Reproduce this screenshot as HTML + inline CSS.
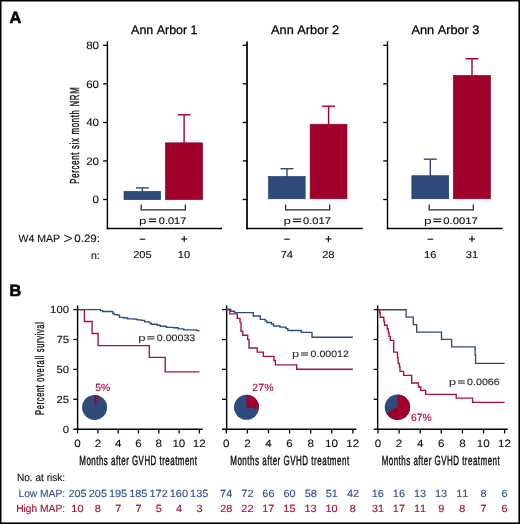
<!DOCTYPE html>
<html><head><meta charset="utf-8"><style>
html,body{margin:0;padding:0;background:#fff;}
body{width:520px;height:524px;overflow:hidden;}
svg{display:block;will-change:transform;}
text{font-family:"Liberation Sans",sans-serif;font-kerning:none;text-rendering:geometricPrecision;}
</style></head><body>
<svg width="520" height="524" viewBox="0 0 520 524">
<rect x="0" y="0" width="520" height="524" fill="#fff"/>
<rect x="0.00" y="0.00" width="1.50" height="524.00" fill="#000"/>
<rect x="0.00" y="0.00" width="520.00" height="1.50" fill="#000"/>
<rect x="518.40" y="0.00" width="1.60" height="524.00" fill="#000"/>
<rect x="0.00" y="522.40" width="520.00" height="1.60" fill="#000"/>
<text x="9.39" y="23.00" style="font-size:16.4px;font-weight:bold;stroke:#000;stroke-width:0.6px;fill:#000">A</text>
<text x="131.08" y="33.70" textLength="66.43" lengthAdjust="spacingAndGlyphs" style="font-size:12.4px;stroke:#000;stroke-width:0.25px;fill:#000">Ann Arbor 1</text>
<text x="271.08" y="33.70" textLength="68.07" lengthAdjust="spacingAndGlyphs" style="font-size:12.4px;stroke:#000;stroke-width:0.25px;fill:#000">Ann Arbor 2</text>
<text x="411.48" y="33.70" textLength="67.98" lengthAdjust="spacingAndGlyphs" style="font-size:12.4px;stroke:#000;stroke-width:0.25px;fill:#000">Ann Arbor 3</text>
<line x1="107.40" y1="41.40" x2="107.40" y2="229.30" stroke="#000" stroke-width="1.4"/>
<line x1="106.70" y1="228.60" x2="222.00" y2="228.60" stroke="#000" stroke-width="1.5"/>
<line x1="103.10" y1="45.30" x2="107.40" y2="45.30" stroke="#000" stroke-width="1.3"/>
<line x1="103.10" y1="83.80" x2="107.40" y2="83.80" stroke="#000" stroke-width="1.3"/>
<line x1="103.10" y1="122.50" x2="107.40" y2="122.50" stroke="#000" stroke-width="1.3"/>
<line x1="103.10" y1="160.90" x2="107.40" y2="160.90" stroke="#000" stroke-width="1.3"/>
<line x1="103.10" y1="199.50" x2="107.40" y2="199.50" stroke="#000" stroke-width="1.3"/>
<line x1="247.00" y1="41.40" x2="247.00" y2="229.30" stroke="#000" stroke-width="1.75"/>
<line x1="246.30" y1="228.60" x2="362.80" y2="228.60" stroke="#000" stroke-width="1.5"/>
<line x1="242.70" y1="45.30" x2="247.00" y2="45.30" stroke="#000" stroke-width="1.3"/>
<line x1="242.70" y1="83.80" x2="247.00" y2="83.80" stroke="#000" stroke-width="1.3"/>
<line x1="242.70" y1="122.50" x2="247.00" y2="122.50" stroke="#000" stroke-width="1.3"/>
<line x1="242.70" y1="160.90" x2="247.00" y2="160.90" stroke="#000" stroke-width="1.3"/>
<line x1="242.70" y1="199.50" x2="247.00" y2="199.50" stroke="#000" stroke-width="1.3"/>
<line x1="387.50" y1="41.40" x2="387.50" y2="229.30" stroke="#000" stroke-width="1.4"/>
<line x1="386.80" y1="228.60" x2="502.70" y2="228.60" stroke="#000" stroke-width="1.5"/>
<line x1="383.20" y1="45.30" x2="387.50" y2="45.30" stroke="#000" stroke-width="1.3"/>
<line x1="383.20" y1="83.80" x2="387.50" y2="83.80" stroke="#000" stroke-width="1.3"/>
<line x1="383.20" y1="122.50" x2="387.50" y2="122.50" stroke="#000" stroke-width="1.3"/>
<line x1="383.20" y1="160.90" x2="387.50" y2="160.90" stroke="#000" stroke-width="1.3"/>
<line x1="383.20" y1="199.50" x2="387.50" y2="199.50" stroke="#000" stroke-width="1.3"/>
<text x="86.20" y="49.00" textLength="12.85" lengthAdjust="spacingAndGlyphs" style="font-size:10.8px;stroke:#111;stroke-width:0.12px;fill:#111">80</text>
<text x="86.20" y="87.50" textLength="12.85" lengthAdjust="spacingAndGlyphs" style="font-size:10.8px;stroke:#111;stroke-width:0.12px;fill:#111">60</text>
<text x="86.20" y="126.20" textLength="12.85" lengthAdjust="spacingAndGlyphs" style="font-size:10.8px;stroke:#111;stroke-width:0.12px;fill:#111">40</text>
<text x="86.20" y="164.60" textLength="12.85" lengthAdjust="spacingAndGlyphs" style="font-size:10.8px;stroke:#111;stroke-width:0.12px;fill:#111">20</text>
<text x="92.62" y="203.20" textLength="6.43" lengthAdjust="spacingAndGlyphs" style="font-size:10.8px;stroke:#111;stroke-width:0.12px;fill:#111">0</text>
<text transform="translate(79.20,183.00) rotate(-90) scale(0.6,1)" x="-1.07" y="0" style="font-size:13.0px;letter-spacing:1.160px;fill:#111;stroke:#111;stroke-width:0.4px;">Percent six month NRM</text>
<line x1="142.40" y1="187.90" x2="142.40" y2="192.10" stroke="#2E4B7C" stroke-width="1.4"/>
<line x1="135.90" y1="187.90" x2="148.90" y2="187.90" stroke="#2E4B7C" stroke-width="1.4"/>
<rect x="124.05" y="191.45" width="36.50" height="8.10" fill="#2E4B7C" stroke="#1F3A6C" stroke-width="0.7"/>
<line x1="184.10" y1="114.80" x2="184.10" y2="143.50" stroke="#A1002B" stroke-width="1.4"/>
<line x1="177.60" y1="114.80" x2="190.60" y2="114.80" stroke="#A1002B" stroke-width="1.4"/>
<rect x="165.55" y="142.85" width="37.00" height="56.70" fill="#A1002B" stroke="#8C0024" stroke-width="0.7"/>
<line x1="287.00" y1="168.70" x2="287.00" y2="177.20" stroke="#2E4B7C" stroke-width="1.4"/>
<line x1="280.50" y1="168.70" x2="293.50" y2="168.70" stroke="#2E4B7C" stroke-width="1.4"/>
<rect x="268.65" y="176.55" width="36.50" height="22.20" fill="#2E4B7C" stroke="#1F3A6C" stroke-width="0.7"/>
<line x1="328.60" y1="106.20" x2="328.60" y2="124.90" stroke="#A1002B" stroke-width="1.4"/>
<line x1="322.10" y1="106.20" x2="335.10" y2="106.20" stroke="#A1002B" stroke-width="1.4"/>
<rect x="310.15" y="124.25" width="36.80" height="74.50" fill="#A1002B" stroke="#8C0024" stroke-width="0.7"/>
<line x1="430.30" y1="159.20" x2="430.30" y2="176.40" stroke="#2E4B7C" stroke-width="1.4"/>
<line x1="423.80" y1="159.20" x2="436.80" y2="159.20" stroke="#2E4B7C" stroke-width="1.4"/>
<rect x="411.85" y="175.75" width="36.80" height="23.00" fill="#2E4B7C" stroke="#1F3A6C" stroke-width="0.7"/>
<line x1="472.00" y1="58.70" x2="472.00" y2="76.20" stroke="#A1002B" stroke-width="1.4"/>
<line x1="465.50" y1="58.70" x2="478.50" y2="58.70" stroke="#A1002B" stroke-width="1.4"/>
<rect x="453.45" y="75.55" width="37.00" height="123.20" fill="#A1002B" stroke="#8C0024" stroke-width="0.7"/>
<polyline points="141.20,204.40 141.20,209.80 185.40,209.80 185.40,204.40" fill="none" stroke="#222" stroke-width="1.2" stroke-linejoin="miter"/>
<polyline points="285.60,204.40 285.60,209.80 329.70,209.80 329.70,204.40" fill="none" stroke="#222" stroke-width="1.2" stroke-linejoin="miter"/>
<polyline points="429.20,204.40 429.20,209.80 473.30,209.80 473.30,204.40" fill="none" stroke="#222" stroke-width="1.2" stroke-linejoin="miter"/>
<text x="139.04" y="223.60" textLength="7.42" lengthAdjust="spacingAndGlyphs" style="font-size:9.6px;fill:#111">p</text>
<line x1="148.90" y1="219.10" x2="156.10" y2="219.10" stroke="#111" stroke-width="1.15"/>
<line x1="148.90" y1="221.60" x2="156.10" y2="221.60" stroke="#111" stroke-width="1.15"/>
<text x="158.77" y="223.60" textLength="27.58" lengthAdjust="spacingAndGlyphs" style="font-size:9.6px;stroke:#111;stroke-width:0.12px;fill:#111">0.017</text>
<text x="283.54" y="223.50" textLength="7.42" lengthAdjust="spacingAndGlyphs" style="font-size:9.6px;fill:#111">p</text>
<line x1="292.90" y1="219.10" x2="301.20" y2="219.10" stroke="#111" stroke-width="1.15"/>
<line x1="292.90" y1="221.60" x2="301.20" y2="221.60" stroke="#111" stroke-width="1.15"/>
<text x="303.07" y="223.50" textLength="27.79" lengthAdjust="spacingAndGlyphs" style="font-size:9.6px;stroke:#111;stroke-width:0.12px;fill:#111">0.017</text>
<text x="423.93" y="223.50" textLength="7.54" lengthAdjust="spacingAndGlyphs" style="font-size:9.6px;fill:#111">p</text>
<line x1="433.30" y1="219.10" x2="441.30" y2="219.10" stroke="#111" stroke-width="1.15"/>
<line x1="433.30" y1="221.60" x2="441.30" y2="221.60" stroke="#111" stroke-width="1.15"/>
<text x="443.26" y="223.50" textLength="34.41" lengthAdjust="spacingAndGlyphs" style="font-size:9.6px;stroke:#111;stroke-width:0.12px;fill:#111">0.0017</text>
<text x="18.45" y="241.80" textLength="41.70" lengthAdjust="spacingAndGlyphs" style="font-size:10.6px;stroke:#111;stroke-width:0.12px;fill:#111">W4 MAP</text>
<polyline points="64.20,235.10 71.90,238.45 64.20,241.80" fill="none" stroke="#111" stroke-width="1.0" stroke-linejoin="miter"/>
<text x="74.25" y="241.80" textLength="25.71" lengthAdjust="spacingAndGlyphs" style="font-size:10.6px;stroke:#111;stroke-width:0.12px;fill:#111">0.29:</text>
<text x="90.93" y="258.80" style="font-size:10.6px;stroke:#111;stroke-width:0.12px;fill:#111">n:</text>
<line x1="139.70" y1="239.20" x2="145.30" y2="239.20" stroke="#111" stroke-width="1.1"/>
<line x1="181.20" y1="239.00" x2="187.20" y2="239.00" stroke="#111" stroke-width="1.15"/>
<line x1="184.20" y1="236.10" x2="184.20" y2="241.90" stroke="#111" stroke-width="1.15"/>
<text x="133.19" y="258.10" textLength="18.54" lengthAdjust="spacingAndGlyphs" style="font-size:10.1px;stroke:#111;stroke-width:0.12px;fill:#111">205</text>
<text x="177.82" y="258.10" textLength="12.36" lengthAdjust="spacingAndGlyphs" style="font-size:10.1px;stroke:#111;stroke-width:0.12px;fill:#111">10</text>
<line x1="284.20" y1="239.20" x2="289.80" y2="239.20" stroke="#111" stroke-width="1.1"/>
<line x1="325.40" y1="239.00" x2="331.40" y2="239.00" stroke="#111" stroke-width="1.15"/>
<line x1="328.40" y1="236.10" x2="328.40" y2="241.90" stroke="#111" stroke-width="1.15"/>
<text x="280.70" y="258.10" textLength="12.36" lengthAdjust="spacingAndGlyphs" style="font-size:10.1px;stroke:#111;stroke-width:0.12px;fill:#111">74</text>
<text x="322.18" y="258.10" textLength="12.36" lengthAdjust="spacingAndGlyphs" style="font-size:10.1px;stroke:#111;stroke-width:0.12px;fill:#111">28</text>
<line x1="427.60" y1="239.20" x2="433.20" y2="239.20" stroke="#111" stroke-width="1.1"/>
<line x1="469.00" y1="239.00" x2="475.00" y2="239.00" stroke="#111" stroke-width="1.15"/>
<line x1="472.00" y1="236.10" x2="472.00" y2="241.90" stroke="#111" stroke-width="1.15"/>
<text x="424.04" y="258.10" textLength="12.36" lengthAdjust="spacingAndGlyphs" style="font-size:10.1px;stroke:#111;stroke-width:0.12px;fill:#111">16</text>
<text x="465.88" y="258.10" textLength="12.36" lengthAdjust="spacingAndGlyphs" style="font-size:10.1px;stroke:#111;stroke-width:0.12px;fill:#111">31</text>
<text x="9.42" y="295.60" style="font-size:16.2px;font-weight:bold;stroke:#000;stroke-width:0.6px;fill:#000">B</text>
<line x1="77.60" y1="305.40" x2="77.60" y2="429.90" stroke="#000" stroke-width="1.4"/>
<line x1="73.30" y1="429.20" x2="202.70" y2="429.20" stroke="#000" stroke-width="1.5"/>
<line x1="73.30" y1="309.60" x2="77.60" y2="309.60" stroke="#000" stroke-width="1.3"/>
<line x1="73.30" y1="339.50" x2="77.60" y2="339.50" stroke="#000" stroke-width="1.3"/>
<line x1="73.30" y1="369.40" x2="77.60" y2="369.40" stroke="#000" stroke-width="1.3"/>
<line x1="73.30" y1="399.30" x2="77.60" y2="399.30" stroke="#000" stroke-width="1.3"/>
<line x1="77.60" y1="429.20" x2="77.60" y2="433.40" stroke="#000" stroke-width="1.3"/>
<text x="74.36" y="446.80" textLength="6.48" lengthAdjust="spacingAndGlyphs" style="font-size:10.6px;stroke:#111;stroke-width:0.12px;fill:#111">0</text>
<line x1="97.90" y1="429.20" x2="97.90" y2="433.40" stroke="#000" stroke-width="1.3"/>
<text x="94.66" y="446.80" textLength="6.48" lengthAdjust="spacingAndGlyphs" style="font-size:10.6px;stroke:#111;stroke-width:0.12px;fill:#111">2</text>
<line x1="118.20" y1="429.20" x2="118.20" y2="433.40" stroke="#000" stroke-width="1.3"/>
<text x="114.99" y="446.80" textLength="6.48" lengthAdjust="spacingAndGlyphs" style="font-size:10.6px;stroke:#111;stroke-width:0.12px;fill:#111">4</text>
<line x1="138.50" y1="429.20" x2="138.50" y2="433.40" stroke="#000" stroke-width="1.3"/>
<text x="135.22" y="446.80" textLength="6.48" lengthAdjust="spacingAndGlyphs" style="font-size:10.6px;stroke:#111;stroke-width:0.12px;fill:#111">6</text>
<line x1="158.80" y1="429.20" x2="158.80" y2="433.40" stroke="#000" stroke-width="1.3"/>
<text x="155.56" y="446.80" textLength="6.48" lengthAdjust="spacingAndGlyphs" style="font-size:10.6px;stroke:#111;stroke-width:0.12px;fill:#111">8</text>
<line x1="179.10" y1="429.20" x2="179.10" y2="433.40" stroke="#000" stroke-width="1.3"/>
<text x="172.40" y="446.80" textLength="12.97" lengthAdjust="spacingAndGlyphs" style="font-size:10.6px;stroke:#111;stroke-width:0.12px;fill:#111">10</text>
<line x1="199.40" y1="429.20" x2="199.40" y2="433.40" stroke="#000" stroke-width="1.3"/>
<text x="192.76" y="446.80" textLength="12.97" lengthAdjust="spacingAndGlyphs" style="font-size:10.6px;stroke:#111;stroke-width:0.12px;fill:#111">12</text>
<line x1="226.65" y1="305.40" x2="226.65" y2="429.90" stroke="#000" stroke-width="1.4"/>
<line x1="222.00" y1="429.20" x2="356.30" y2="429.20" stroke="#000" stroke-width="1.5"/>
<line x1="222.00" y1="309.60" x2="226.30" y2="309.60" stroke="#000" stroke-width="1.3"/>
<line x1="222.00" y1="339.50" x2="226.30" y2="339.50" stroke="#000" stroke-width="1.3"/>
<line x1="222.00" y1="369.40" x2="226.30" y2="369.40" stroke="#000" stroke-width="1.3"/>
<line x1="222.00" y1="399.30" x2="226.30" y2="399.30" stroke="#000" stroke-width="1.3"/>
<line x1="226.30" y1="429.20" x2="226.30" y2="433.40" stroke="#000" stroke-width="1.3"/>
<text x="223.06" y="446.80" textLength="6.48" lengthAdjust="spacingAndGlyphs" style="font-size:10.6px;stroke:#111;stroke-width:0.12px;fill:#111">0</text>
<line x1="247.40" y1="429.20" x2="247.40" y2="433.40" stroke="#000" stroke-width="1.3"/>
<text x="244.16" y="446.80" textLength="6.48" lengthAdjust="spacingAndGlyphs" style="font-size:10.6px;stroke:#111;stroke-width:0.12px;fill:#111">2</text>
<line x1="268.50" y1="429.20" x2="268.50" y2="433.40" stroke="#000" stroke-width="1.3"/>
<text x="265.29" y="446.80" textLength="6.48" lengthAdjust="spacingAndGlyphs" style="font-size:10.6px;stroke:#111;stroke-width:0.12px;fill:#111">4</text>
<line x1="289.60" y1="429.20" x2="289.60" y2="433.40" stroke="#000" stroke-width="1.3"/>
<text x="286.32" y="446.80" textLength="6.48" lengthAdjust="spacingAndGlyphs" style="font-size:10.6px;stroke:#111;stroke-width:0.12px;fill:#111">6</text>
<line x1="310.70" y1="429.20" x2="310.70" y2="433.40" stroke="#000" stroke-width="1.3"/>
<text x="307.46" y="446.80" textLength="6.48" lengthAdjust="spacingAndGlyphs" style="font-size:10.6px;stroke:#111;stroke-width:0.12px;fill:#111">8</text>
<line x1="331.80" y1="429.20" x2="331.80" y2="433.40" stroke="#000" stroke-width="1.3"/>
<text x="325.10" y="446.80" textLength="12.97" lengthAdjust="spacingAndGlyphs" style="font-size:10.6px;stroke:#111;stroke-width:0.12px;fill:#111">10</text>
<line x1="352.90" y1="429.20" x2="352.90" y2="433.40" stroke="#000" stroke-width="1.3"/>
<text x="346.26" y="446.80" textLength="12.97" lengthAdjust="spacingAndGlyphs" style="font-size:10.6px;stroke:#111;stroke-width:0.12px;fill:#111">12</text>
<line x1="377.65" y1="305.40" x2="377.65" y2="429.90" stroke="#000" stroke-width="1.4"/>
<line x1="373.70" y1="429.20" x2="507.80" y2="429.20" stroke="#000" stroke-width="1.5"/>
<line x1="373.70" y1="309.60" x2="378.00" y2="309.60" stroke="#000" stroke-width="1.3"/>
<line x1="373.70" y1="339.50" x2="378.00" y2="339.50" stroke="#000" stroke-width="1.3"/>
<line x1="373.70" y1="369.40" x2="378.00" y2="369.40" stroke="#000" stroke-width="1.3"/>
<line x1="373.70" y1="399.30" x2="378.00" y2="399.30" stroke="#000" stroke-width="1.3"/>
<line x1="378.00" y1="429.20" x2="378.00" y2="433.40" stroke="#000" stroke-width="1.3"/>
<text x="374.76" y="446.80" textLength="6.48" lengthAdjust="spacingAndGlyphs" style="font-size:10.6px;stroke:#111;stroke-width:0.12px;fill:#111">0</text>
<line x1="399.10" y1="429.20" x2="399.10" y2="433.40" stroke="#000" stroke-width="1.3"/>
<text x="395.86" y="446.80" textLength="6.48" lengthAdjust="spacingAndGlyphs" style="font-size:10.6px;stroke:#111;stroke-width:0.12px;fill:#111">2</text>
<line x1="420.20" y1="429.20" x2="420.20" y2="433.40" stroke="#000" stroke-width="1.3"/>
<text x="416.99" y="446.80" textLength="6.48" lengthAdjust="spacingAndGlyphs" style="font-size:10.6px;stroke:#111;stroke-width:0.12px;fill:#111">4</text>
<line x1="441.30" y1="429.20" x2="441.30" y2="433.40" stroke="#000" stroke-width="1.3"/>
<text x="438.02" y="446.80" textLength="6.48" lengthAdjust="spacingAndGlyphs" style="font-size:10.6px;stroke:#111;stroke-width:0.12px;fill:#111">6</text>
<line x1="462.40" y1="429.20" x2="462.40" y2="433.40" stroke="#000" stroke-width="1.3"/>
<text x="459.16" y="446.80" textLength="6.48" lengthAdjust="spacingAndGlyphs" style="font-size:10.6px;stroke:#111;stroke-width:0.12px;fill:#111">8</text>
<line x1="483.50" y1="429.20" x2="483.50" y2="433.40" stroke="#000" stroke-width="1.3"/>
<text x="476.80" y="446.80" textLength="12.97" lengthAdjust="spacingAndGlyphs" style="font-size:10.6px;stroke:#111;stroke-width:0.12px;fill:#111">10</text>
<line x1="504.60" y1="429.20" x2="504.60" y2="433.40" stroke="#000" stroke-width="1.3"/>
<text x="497.96" y="446.80" textLength="12.97" lengthAdjust="spacingAndGlyphs" style="font-size:10.6px;stroke:#111;stroke-width:0.12px;fill:#111">12</text>
<text x="50.14" y="313.20" textLength="18.90" lengthAdjust="spacingAndGlyphs" style="font-size:10.3px;stroke:#111;stroke-width:0.12px;fill:#111">100</text>
<text x="56.47" y="343.10" textLength="12.60" lengthAdjust="spacingAndGlyphs" style="font-size:10.3px;stroke:#111;stroke-width:0.12px;fill:#111">75</text>
<text x="56.44" y="373.00" textLength="12.60" lengthAdjust="spacingAndGlyphs" style="font-size:10.3px;stroke:#111;stroke-width:0.12px;fill:#111">50</text>
<text x="56.47" y="402.90" textLength="12.60" lengthAdjust="spacingAndGlyphs" style="font-size:10.3px;stroke:#111;stroke-width:0.12px;fill:#111">25</text>
<text x="62.74" y="432.80" textLength="6.30" lengthAdjust="spacingAndGlyphs" style="font-size:10.3px;stroke:#111;stroke-width:0.12px;fill:#111">0</text>
<text transform="translate(43.50,414.30) rotate(-90) scale(0.6,1)" x="-1.03" y="0" style="font-size:12.6px;letter-spacing:1.063px;fill:#111;stroke:#111;stroke-width:0.4px;">Percent overall survival</text>
<text transform="translate(80.00,464.80) scale(0.6,1)" x="-1.09" y="0" style="font-size:13.3px;letter-spacing:0.773px;fill:#111;stroke:#111;stroke-width:0.45px;">Months after GVHD treatment</text>
<text transform="translate(230.90,464.80) scale(0.6,1)" x="-1.09" y="0" style="font-size:13.3px;letter-spacing:0.856px;fill:#111;stroke:#111;stroke-width:0.45px;">Months after GVHD treatment</text>
<text transform="translate(382.30,464.80) scale(0.6,1)" x="-1.09" y="0" style="font-size:13.3px;letter-spacing:0.805px;fill:#111;stroke:#111;stroke-width:0.45px;">Months after GVHD treatment</text>
<text x="138.25" y="340.90" textLength="7.30" lengthAdjust="spacingAndGlyphs" style="font-size:9.4px;fill:#2a2a2a">p</text>
<line x1="147.30" y1="336.70" x2="154.50" y2="336.70" stroke="#595959" stroke-width="1.3"/>
<line x1="147.30" y1="338.90" x2="154.50" y2="338.90" stroke="#595959" stroke-width="1.3"/>
<text x="156.78" y="340.90" textLength="38.48" lengthAdjust="spacingAndGlyphs" style="font-size:9.4px;stroke:#2a2a2a;stroke-width:0.12px;fill:#2a2a2a">0.00033</text>
<text x="292.07" y="357.10" textLength="7.17" lengthAdjust="spacingAndGlyphs" style="font-size:9.4px;fill:#2a2a2a">p</text>
<line x1="301.00" y1="352.90" x2="308.20" y2="352.90" stroke="#595959" stroke-width="1.3"/>
<line x1="301.00" y1="355.10" x2="308.20" y2="355.10" stroke="#595959" stroke-width="1.3"/>
<text x="310.59" y="357.10" textLength="38.25" lengthAdjust="spacingAndGlyphs" style="font-size:9.4px;stroke:#2a2a2a;stroke-width:0.12px;fill:#2a2a2a">0.00012</text>
<text x="448.74" y="385.10" textLength="7.42" lengthAdjust="spacingAndGlyphs" style="font-size:9.4px;fill:#2a2a2a">p</text>
<line x1="457.90" y1="380.90" x2="464.80" y2="380.90" stroke="#595959" stroke-width="1.3"/>
<line x1="457.90" y1="383.10" x2="464.80" y2="383.10" stroke="#595959" stroke-width="1.3"/>
<text x="467.08" y="385.10" textLength="32.58" lengthAdjust="spacingAndGlyphs" style="font-size:9.4px;stroke:#2a2a2a;stroke-width:0.12px;fill:#2a2a2a">0.0066</text>
<circle cx="94.6" cy="407.4" r="12.5" fill="#2E4B7C"/>
<path d="M94.6,407.4 L94.6,394.9 A12.5,12.5 0 0 1 98.46,395.51 Z" fill="#A1002B"/>
<circle cx="246.5" cy="407.3" r="12.5" fill="#2E4B7C"/>
<path d="M246.5,407.3 L246.5,394.8 A12.5,12.5 0 0 1 258.90,408.87 Z" fill="#A1002B"/>
<circle cx="397.5" cy="407.2" r="12.7" fill="#2E4B7C"/>
<path d="M397.5,407.2 L397.5,394.5 A12.7,12.7 0 1 1 386.37,413.32 Z" fill="#A1002B"/>
<text x="95.18" y="391.10" textLength="14.98" lengthAdjust="spacingAndGlyphs" style="font-size:10.4px;stroke:#A60C37;stroke-width:0.12px;fill:#A60C37">5%</text>
<text x="252.37" y="391.00" textLength="21.21" lengthAdjust="spacingAndGlyphs" style="font-size:10.4px;stroke:#A60C37;stroke-width:0.12px;fill:#A60C37">27%</text>
<text x="411.08" y="420.80" textLength="20.59" lengthAdjust="spacingAndGlyphs" style="font-size:10.4px;stroke:#A60C37;stroke-width:0.12px;fill:#A60C37">67%</text>
<polyline points="77.60,309.60 100.30,309.60 100.30,310.60 102.70,310.60 102.70,311.50 110.40,311.50 112.80,311.50 112.80,313.50 114.20,313.50 114.20,314.60 117.60,314.60 117.60,315.10 119.50,315.10 119.50,317.30 123.80,317.30 123.80,318.00 127.70,318.00 127.70,318.90 134.40,318.90 134.40,319.10 137.30,319.10 137.30,319.90 141.20,319.90 141.20,320.40 144.60,320.40 144.60,321.90 149.20,321.90 149.20,322.80 151.00,322.80 151.00,324.20 157.30,324.20 157.30,325.20 160.20,325.20 160.20,326.20 164.80,326.20 164.80,326.50 166.50,326.50 166.50,327.30 173.50,327.30 173.50,327.70 178.10,327.70 178.10,328.80 183.80,328.80 183.80,329.80 194.20,329.80 196.50,329.80 196.50,330.60 198.80,330.60 198.80,331.40" fill="none" stroke="#2E4B7C" stroke-width="1.35" stroke-linejoin="miter"/>
<polyline points="226.30,309.50 230.80,309.50 230.80,311.20 234.60,311.20 234.60,312.60 253.30,312.60 253.30,316.00 260.30,316.00 260.30,319.30 265.20,319.30 265.20,320.80 266.80,320.80 266.80,322.50 271.50,322.50 271.50,324.00 273.50,324.00 273.50,326.00 279.90,326.00 279.90,327.10 286.00,327.10 286.00,328.60 287.80,328.60 287.80,330.50 301.20,330.50 301.20,332.30 312.00,332.30 312.00,337.20 352.90,337.20" fill="none" stroke="#2E4B7C" stroke-width="1.35" stroke-linejoin="miter"/>
<polyline points="378.00,309.70 406.10,309.70 406.10,317.10 413.30,317.10 413.30,324.60 416.70,324.60 416.70,332.10 441.50,332.10 441.50,339.30 451.60,339.30 451.60,346.80 475.10,346.80 475.10,355.00 475.60,355.00 475.60,363.40 504.60,363.40" fill="none" stroke="#2E4B7C" stroke-width="1.35" stroke-linejoin="miter"/>
<polyline points="77.60,309.60 84.40,309.60 84.40,321.50 92.10,321.50 92.10,333.50 98.10,333.50 98.10,345.60 149.30,345.60 149.30,357.30 165.20,357.30 165.20,371.90 199.40,371.90" fill="none" stroke="#A8103A" stroke-width="1.35" stroke-linejoin="miter"/>
<polyline points="226.30,309.50 229.80,309.50 229.80,313.90 237.30,313.90 237.30,318.30 240.00,318.30 240.00,322.30 241.00,322.30 241.00,331.20 242.80,331.20 242.80,335.20 247.70,335.20 247.70,339.60 249.00,339.60 249.00,348.00 257.20,348.00 257.20,352.10 263.30,352.10 263.30,356.40 274.00,356.40 274.00,360.50 275.40,360.50 275.40,364.80 296.70,364.80 296.70,369.20 352.90,369.20" fill="none" stroke="#A8103A" stroke-width="1.35" stroke-linejoin="miter"/>
<polyline points="378.00,309.70 379.20,309.70 379.20,310.70 379.70,310.70 379.70,313.00 380.30,313.00 380.30,317.20 383.80,317.20 383.80,321.40 384.50,321.40 384.50,325.20 387.20,325.20 387.20,329.00 388.40,329.00 388.40,332.90 389.10,332.90 389.10,336.30 390.30,336.30 390.30,340.30 393.70,340.30 393.70,352.10 397.50,352.10 397.50,357.50 398.10,357.50 398.10,363.30 399.50,363.30 399.50,367.00 400.00,367.00 400.00,371.30 403.60,371.30 403.60,375.30 411.70,375.30 411.70,383.00 418.40,383.00 418.40,387.00 420.70,387.00 420.70,390.40 425.60,390.40 425.60,394.40 456.20,394.40 456.20,398.10 472.60,398.10 472.60,402.30 504.60,402.30" fill="none" stroke="#A8103A" stroke-width="1.35" stroke-linejoin="miter"/>
<text x="16.97" y="481.40" textLength="48.15" lengthAdjust="spacingAndGlyphs" style="font-size:10.5px;stroke:#111;stroke-width:0.12px;fill:#111">No. at risk:</text>
<text x="18.46" y="496.70" textLength="46.68" lengthAdjust="spacingAndGlyphs" style="font-size:10.6px;stroke:#2F4F8C;stroke-width:0.12px;fill:#2F4F8C">Low MAP:</text>
<text x="16.16" y="512.00" textLength="48.98" lengthAdjust="spacingAndGlyphs" style="font-size:10.5px;stroke:#A60C37;stroke-width:0.12px;fill:#A60C37">High MAP:</text>
<text x="68.44" y="496.70" textLength="18.22" lengthAdjust="spacingAndGlyphs" style="font-size:10.4px;stroke:#2F4F8C;stroke-width:0.12px;fill:#2F4F8C">205</text>
<text x="71.32" y="512.00" textLength="12.15" lengthAdjust="spacingAndGlyphs" style="font-size:10.4px;stroke:#A60C37;stroke-width:0.12px;fill:#A60C37">10</text>
<text x="88.74" y="496.70" textLength="18.22" lengthAdjust="spacingAndGlyphs" style="font-size:10.4px;stroke:#2F4F8C;stroke-width:0.12px;fill:#2F4F8C">205</text>
<text x="94.86" y="512.00" textLength="6.07" lengthAdjust="spacingAndGlyphs" style="font-size:10.4px;stroke:#A60C37;stroke-width:0.12px;fill:#A60C37">8</text>
<text x="108.90" y="496.70" textLength="18.22" lengthAdjust="spacingAndGlyphs" style="font-size:10.4px;stroke:#2F4F8C;stroke-width:0.12px;fill:#2F4F8C">195</text>
<text x="115.16" y="512.00" textLength="6.07" lengthAdjust="spacingAndGlyphs" style="font-size:10.4px;stroke:#A60C37;stroke-width:0.12px;fill:#A60C37">7</text>
<text x="129.20" y="496.70" textLength="18.22" lengthAdjust="spacingAndGlyphs" style="font-size:10.4px;stroke:#2F4F8C;stroke-width:0.12px;fill:#2F4F8C">185</text>
<text x="135.46" y="512.00" textLength="6.07" lengthAdjust="spacingAndGlyphs" style="font-size:10.4px;stroke:#A60C37;stroke-width:0.12px;fill:#A60C37">7</text>
<text x="149.55" y="496.70" textLength="18.22" lengthAdjust="spacingAndGlyphs" style="font-size:10.4px;stroke:#2F4F8C;stroke-width:0.12px;fill:#2F4F8C">172</text>
<text x="155.77" y="512.00" textLength="6.07" lengthAdjust="spacingAndGlyphs" style="font-size:10.4px;stroke:#A60C37;stroke-width:0.12px;fill:#A60C37">5</text>
<text x="169.79" y="496.70" textLength="18.22" lengthAdjust="spacingAndGlyphs" style="font-size:10.4px;stroke:#2F4F8C;stroke-width:0.12px;fill:#2F4F8C">160</text>
<text x="176.10" y="512.00" textLength="6.07" lengthAdjust="spacingAndGlyphs" style="font-size:10.4px;stroke:#A60C37;stroke-width:0.12px;fill:#A60C37">4</text>
<text x="190.10" y="496.70" textLength="18.22" lengthAdjust="spacingAndGlyphs" style="font-size:10.4px;stroke:#2F4F8C;stroke-width:0.12px;fill:#2F4F8C">135</text>
<text x="196.40" y="512.00" textLength="6.07" lengthAdjust="spacingAndGlyphs" style="font-size:10.4px;stroke:#A60C37;stroke-width:0.12px;fill:#A60C37">3</text>
<text x="220.11" y="496.70" textLength="12.15" lengthAdjust="spacingAndGlyphs" style="font-size:10.4px;stroke:#2F4F8C;stroke-width:0.12px;fill:#2F4F8C">74</text>
<text x="220.19" y="512.00" textLength="12.15" lengthAdjust="spacingAndGlyphs" style="font-size:10.4px;stroke:#A60C37;stroke-width:0.12px;fill:#A60C37">28</text>
<text x="241.32" y="496.70" textLength="12.15" lengthAdjust="spacingAndGlyphs" style="font-size:10.4px;stroke:#2F4F8C;stroke-width:0.12px;fill:#2F4F8C">72</text>
<text x="241.33" y="512.00" textLength="12.15" lengthAdjust="spacingAndGlyphs" style="font-size:10.4px;stroke:#A60C37;stroke-width:0.12px;fill:#A60C37">22</text>
<text x="262.39" y="496.70" textLength="12.15" lengthAdjust="spacingAndGlyphs" style="font-size:10.4px;stroke:#2F4F8C;stroke-width:0.12px;fill:#2F4F8C">66</text>
<text x="262.29" y="512.00" textLength="12.15" lengthAdjust="spacingAndGlyphs" style="font-size:10.4px;stroke:#A60C37;stroke-width:0.12px;fill:#A60C37">17</text>
<text x="283.46" y="496.70" textLength="12.15" lengthAdjust="spacingAndGlyphs" style="font-size:10.4px;stroke:#2F4F8C;stroke-width:0.12px;fill:#2F4F8C">60</text>
<text x="283.34" y="512.00" textLength="12.15" lengthAdjust="spacingAndGlyphs" style="font-size:10.4px;stroke:#A60C37;stroke-width:0.12px;fill:#A60C37">15</text>
<text x="304.65" y="496.70" textLength="12.15" lengthAdjust="spacingAndGlyphs" style="font-size:10.4px;stroke:#2F4F8C;stroke-width:0.12px;fill:#2F4F8C">58</text>
<text x="304.45" y="512.00" textLength="12.15" lengthAdjust="spacingAndGlyphs" style="font-size:10.4px;stroke:#A60C37;stroke-width:0.12px;fill:#A60C37">13</text>
<text x="325.77" y="496.70" textLength="12.15" lengthAdjust="spacingAndGlyphs" style="font-size:10.4px;stroke:#2F4F8C;stroke-width:0.12px;fill:#2F4F8C">51</text>
<text x="325.52" y="512.00" textLength="12.15" lengthAdjust="spacingAndGlyphs" style="font-size:10.4px;stroke:#A60C37;stroke-width:0.12px;fill:#A60C37">10</text>
<text x="346.98" y="496.70" textLength="12.15" lengthAdjust="spacingAndGlyphs" style="font-size:10.4px;stroke:#2F4F8C;stroke-width:0.12px;fill:#2F4F8C">42</text>
<text x="349.86" y="512.00" textLength="6.07" lengthAdjust="spacingAndGlyphs" style="font-size:10.4px;stroke:#A60C37;stroke-width:0.12px;fill:#A60C37">8</text>
<text x="371.75" y="496.70" textLength="12.15" lengthAdjust="spacingAndGlyphs" style="font-size:10.4px;stroke:#2F4F8C;stroke-width:0.12px;fill:#2F4F8C">16</text>
<text x="371.99" y="512.00" textLength="12.15" lengthAdjust="spacingAndGlyphs" style="font-size:10.4px;stroke:#A60C37;stroke-width:0.12px;fill:#A60C37">31</text>
<text x="392.85" y="496.70" textLength="12.15" lengthAdjust="spacingAndGlyphs" style="font-size:10.4px;stroke:#2F4F8C;stroke-width:0.12px;fill:#2F4F8C">16</text>
<text x="392.89" y="512.00" textLength="12.15" lengthAdjust="spacingAndGlyphs" style="font-size:10.4px;stroke:#A60C37;stroke-width:0.12px;fill:#A60C37">17</text>
<text x="413.95" y="496.70" textLength="12.15" lengthAdjust="spacingAndGlyphs" style="font-size:10.4px;stroke:#2F4F8C;stroke-width:0.12px;fill:#2F4F8C">13</text>
<text x="413.98" y="512.00" textLength="12.15" lengthAdjust="spacingAndGlyphs" style="font-size:10.4px;stroke:#A60C37;stroke-width:0.12px;fill:#A60C37">11</text>
<text x="435.05" y="496.70" textLength="12.15" lengthAdjust="spacingAndGlyphs" style="font-size:10.4px;stroke:#2F4F8C;stroke-width:0.12px;fill:#2F4F8C">13</text>
<text x="438.27" y="512.00" textLength="6.07" lengthAdjust="spacingAndGlyphs" style="font-size:10.4px;stroke:#A60C37;stroke-width:0.12px;fill:#A60C37">9</text>
<text x="456.18" y="496.70" textLength="12.15" lengthAdjust="spacingAndGlyphs" style="font-size:10.4px;stroke:#2F4F8C;stroke-width:0.12px;fill:#2F4F8C">11</text>
<text x="459.36" y="512.00" textLength="6.07" lengthAdjust="spacingAndGlyphs" style="font-size:10.4px;stroke:#A60C37;stroke-width:0.12px;fill:#A60C37">8</text>
<text x="480.46" y="496.70" textLength="6.07" lengthAdjust="spacingAndGlyphs" style="font-size:10.4px;stroke:#2F4F8C;stroke-width:0.12px;fill:#2F4F8C">8</text>
<text x="480.46" y="512.00" textLength="6.07" lengthAdjust="spacingAndGlyphs" style="font-size:10.4px;stroke:#A60C37;stroke-width:0.12px;fill:#A60C37">7</text>
<text x="501.53" y="496.70" textLength="6.07" lengthAdjust="spacingAndGlyphs" style="font-size:10.4px;stroke:#2F4F8C;stroke-width:0.12px;fill:#2F4F8C">6</text>
<text x="501.53" y="512.00" textLength="6.07" lengthAdjust="spacingAndGlyphs" style="font-size:10.4px;stroke:#A60C37;stroke-width:0.12px;fill:#A60C37">6</text>
</svg>
</body></html>
